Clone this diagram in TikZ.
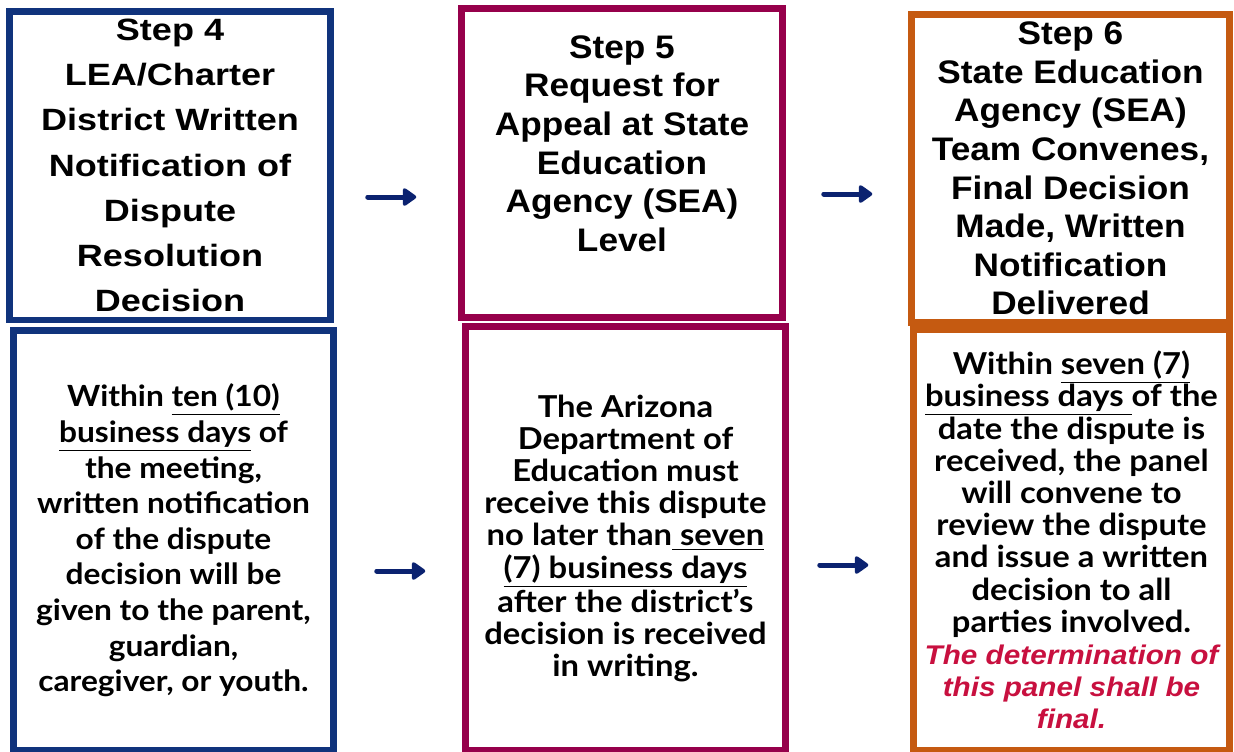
\documentclass[tikz,border=0pt]{standalone}
\usepackage{fontspec}
\usepackage{xcolor}
\usetikzlibrary{arrows.meta,calc}

\newfontfamily\headfont[FakeStretch=1.17]{Liberation Sans}
\newfontfamily\headfontn[FakeStretch=1.08]{Liberation Sans}
\newfontfamily\bodyfont[FakeStretch=1.085]{Lato}
\newfontfamily\notefont[FakeStretch=1.10]{Liberation Sans}

\definecolor{navyline}{HTML}{10337C}
\definecolor{maroonline}{HTML}{96004B}
\definecolor{orangeline}{HTML}{C55A11}
\definecolor{arrowblue}{HTML}{0B2270}
\definecolor{notered}{HTML}{C8103F}

\newcommand\finalnote[1]{{\notefont\bfseries\itshape\fontsize{13.5}{16.1}\selectfont\color{notered}#1}}

\tikzset{
  box/.style={draw=#1, line width=3.25pt, rectangle, align=center, inner sep=0pt},
  head/.style={font=\headfontn\bfseries\fontsize{16.3}{19.3}\selectfont},
  body/.style={font=\bodyfont\bfseries\fontsize{15.1}{16.1}\selectfont},
  flow/.style={draw=arrowblue, line width=2.5pt, line cap=round,
    -{Triangle[length=7.5pt,width=10pt,round]}},
}

\begin{document}
\begin{tikzpicture}[x=0.5pt, y=-0.5pt]

\clip (0,0) rectangle (1234,751);
\fill[white] (0,0) rectangle (1234,751);

% top row
\node [box=navyline, minimum width=160.5pt, minimum height=154.25pt,
  font=\headfont\bfseries\fontsize{15.4}{22.6}\selectfont]
  (step4) at (170,165.5)
  {Step 4\\ LEA/Charter\\ District Written\\ Notification of\\ Dispute\\ Resolution\\ Decision};

\node [box=maroonline, head, minimum width=160.5pt, minimum height=154.5pt, text depth=19.5pt]
  (step5) at (622,163)
  {Step 5\\ Request for\\ Appeal at State\\ Education\\ Agency (SEA)\\ Level};

\node [box=orangeline, head, minimum width=159pt, minimum height=154pt]
  (step6) at (1070.5,168.5)
  {Step 6\\ State Education\\ Agency (SEA)\\ Team Convenes,\\ Final Decision\\ Made, Written\\ Notification\\ Delivered};

% bottom row
\node [box=navyline, minimum width=160pt, minimum height=210pt,
  font=\bodyfont\bfseries\fontsize{14.6}{17.8}\selectfont]
  (note4) at (173.5,540.5)
  {Within \underline{ten (10)}\\ \underline{business days} of\\ the meeting,\\ written notification\\
   of the dispute\\ decision will be\\ given to the parent,\\ guardian,\\ caregiver, or youth.};

\node [box=maroonline, body, minimum width=160pt, minimum height=212pt]
  (note5) at (625.5,538.5)
  {The Arizona\\ Department of\\ Education must\\ receive this dispute\\
   no later than\underline{ seven}\\ \underline{(7) business days}\\ after the district’s\\
   decision is received\\ in writing.};

\node [box=orangeline, body, minimum width=158pt, minimum height=210.5pt]
  (note6) at (1071.5,540)
  {Within \underline{seven (7)}\\ \underline{business days }of the\\ date the dispute is\\
   received, the panel\\ will convene to\\ review the dispute\\ and issue a written\\
   decision to all\\ parties involved.\\ \finalnote{The determination of}\\
   \finalnote{this panel shall be}\\ \finalnote{final.}};

% arrows between the steps
\foreach \from/\to/\sx/\sy/\ex/\ey in {step4/step5/34/31.5/-42/34,
    step5/step6/38/31/-36/25.5, note4/note5/40/30.5/-37/32.5, note5/note6/31/26.5/-42/25}
  \draw [flow] ($(\from.east)+(\sx,\sy)$) -- ($(\to.west)+(\ex,\ey)$);

\end{tikzpicture}
\end{document}
